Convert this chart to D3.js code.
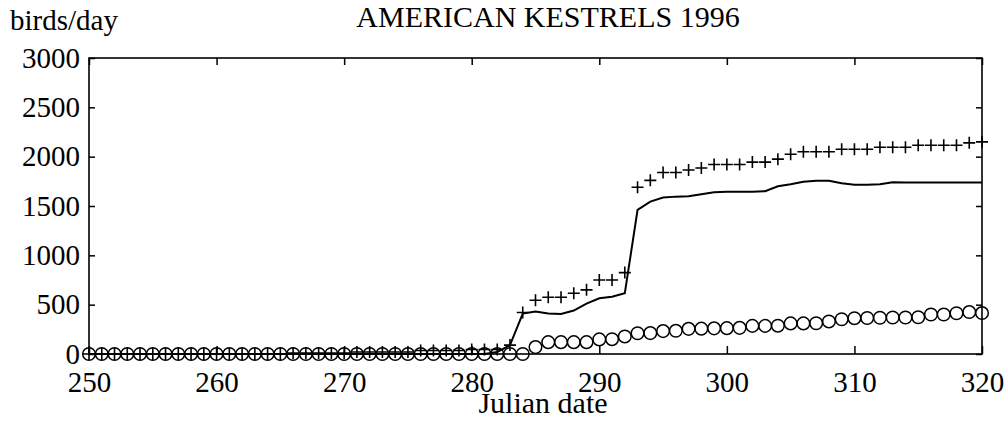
<!DOCTYPE html>
<html>
<head>
<meta charset="utf-8">
<script src="https://cdnjs.cloudflare.com/ajax/libs/d3/7.8.5/d3.min.js"></script>
<style>
body { margin: 0; background: white; }
svg text { font-family: "Liberation Serif", "Times New Roman", serif; fill: black; }
</style>
</head>
<body>
<svg></svg>
<script>
// julian days, one observation per day
var days = [250, 251, 252, 253, 254, 255, 256, 257, 258, 259,
            260, 261, 262, 263, 264, 265, 266, 267, 268, 269,
            270, 271, 272, 273, 274, 275, 276, 277, 278, 279,
            280, 281, 282, 283, 284, 285, 286, 287, 288, 289,
            290, 291, 292, 293, 294, 295, 296, 297, 298, 299,
            300, 301, 302, 303, 304, 305, 306, 307, 308, 309,
            310, 311, 312, 313, 314, 315, 316, 317, 318, 319, 320]

// "+" markers
var plusCounts = [0, 0, 0, 0, 0, 0, 0, 0, 0, 0,
                  0, 0, 0, 0, 0, 0, 10, 10, 10, 10,
                  10, 20, 20, 20, 20, 20, 35, 35, 35, 35,
                  45, 45, 45, 90, 420, 545, 575, 575, 615, 650,
                  750, 750, 825, 1690, 1760, 1840, 1840, 1865, 1885, 1920,
                  1920, 1920, 1945, 1945, 1975, 2025, 2050, 2050, 2050, 2075,
                  2075, 2075, 2095, 2095, 2095, 2115, 2115, 2115, 2115, 2140, 2150]

// solid line
var lineCounts = [0, 0, 0, 0, 0, 0, 0, 0, 0, 0,
                  0, 0, 0, 0, 0, 0, 0, 0, 0, 0,
                  0, 0, 0, 0, 0, 0, 0, 0, 0, 0,
                  0, 0, 20, 90, 410, 430, 410, 405, 440, 510,
                  565, 580, 615, 1460, 1545, 1585, 1595, 1600, 1620, 1640,
                  1645, 1645, 1645, 1650, 1700, 1720, 1745, 1755, 1755, 1730,
                  1715, 1715, 1720, 1740, 1738, 1738, 1738, 1738, 1738, 1738, 1738]

// "o" markers
var circleCounts = [0, 0, 0, 0, 0, 0, 0, 0, 0, 0,
                    0, 0, 0, 0, 0, 0, 0, 0, 0, 0,
                    0, 0, 0, 0, 0, 0, 0, 0, 0, 0,
                    0, 0, 0, 0, 0, 70, 120, 120, 120, 120,
                    148, 150, 178, 210, 212, 232, 235, 255, 257, 260,
                    262, 265, 285, 285, 287, 310, 310, 312, 330, 352,
                    363, 365, 367, 370, 370, 372, 400, 400, 413, 425, 415]

var xTicks = [250, 260, 270, 280, 290, 300, 310, 320]
var yTicks = [0, 500, 1000, 1500, 2000, 2500, 3000]

var dimensions = {
    width: 1008,
    height: 424,
    margin: {
        top: 58,
        bottom: 70,
        left: 89,
        right: 26
    }
}

var fontFamily = '"Liberation Serif", "Times New Roman", serif'

var svg = d3.select("svg")
            .attr("width", dimensions.width)
            .attr("height", dimensions.height)

var xScale = d3.scaleLinear()
               .domain([250, 320])
               .range([dimensions.margin.left, dimensions.width - dimensions.margin.right])

var yScale = d3.scaleLinear()
               .domain([0, 3000])
               .range([dimensions.height - dimensions.margin.bottom, dimensions.margin.top])

var bottomY = dimensions.height - dimensions.margin.bottom
var rightX = dimensions.width - dimensions.margin.right

// frame
svg.append("rect")
   .attr("x", dimensions.margin.left)
   .attr("y", dimensions.margin.top)
   .attr("width", rightX - dimensions.margin.left)
   .attr("height", bottomY - dimensions.margin.top)
   .attr("fill", "none")
   .attr("stroke", "black")
   .attr("stroke-width", 1.6)

// axes, ticks pointing inward
var leftAxis = svg.append("g")
                  .attr("transform", "translate(" + dimensions.margin.left + ",0)")
                  .call(d3.axisLeft(yScale).tickValues(yTicks).tickSize(-6).tickPadding(9).tickFormat(d3.format("d")))
var rightAxis = svg.append("g")
                   .attr("transform", "translate(" + rightX + ",0)")
                   .call(d3.axisRight(yScale).tickValues(yTicks).tickSize(-6).tickFormat(""))
var topAxis = svg.append("g")
                 .attr("transform", "translate(0," + dimensions.margin.top + ")")
                 .call(d3.axisTop(xScale).tickValues(xTicks).tickSize(-7).tickFormat(""))
var bottomAxis = svg.append("g")
                    .attr("transform", "translate(0," + bottomY + ")")
                    .call(d3.axisBottom(xScale).tickValues(xTicks).tickSize(-8).tickPadding(17).tickFormat(d3.format("d")))

svg.selectAll(".domain").remove()
svg.selectAll(".tick line").attr("stroke", "black").attr("stroke-width", 1.5)
svg.selectAll("g").attr("font-family", null).attr("font-size", null)
svg.selectAll(".tick text")
   .style("font-family", fontFamily)
   .style("font-size", "29px")
   .attr("fill", "black")

// solid line
var lineData = days.map((d, i) => [d, lineCounts[i]])
svg.append("path")
   .datum(lineData)
   .attr("d", d3.line().x(d => xScale(d[0])).y(d => yScale(d[1])))
   .attr("fill", "none")
   .attr("stroke", "black")
   .attr("stroke-width", 2)

// plus markers
svg.append("g")
   .selectAll(".plus")
   .data(days.map((d, i) => [d, plusCounts[i]]))
   .enter()
   .append("path")
   .attr("class", "plus")
   .attr("transform", d => "translate(" + xScale(d[0]) + "," + yScale(d[1]) + ")")
   .attr("d", "M-6,0H6M0,-6V6")
   .attr("stroke", "black")
   .attr("stroke-width", 1.6)

// circle markers
svg.append("g")
   .selectAll(".ring")
   .data(days.map((d, i) => [d, circleCounts[i]]))
   .enter()
   .append("circle")
   .attr("class", "ring")
   .attr("cx", d => xScale(d[0]))
   .attr("cy", d => yScale(d[1]))
   .attr("r", 6.3)
   .attr("fill", "none")
   .attr("stroke", "black")
   .attr("stroke-width", 1.5)

// titles
svg.append("text")
   .attr("x", 548)
   .attr("y", 27)
   .attr("text-anchor", "middle")
   .style("font-size", "30px")
   .text("AMERICAN KESTRELS 1996")

svg.append("text")
   .attr("x", 10)
   .attr("y", 30)
   .style("font-size", "29px")
   .text("birds/day")

svg.append("text")
   .attr("x", 543)
   .attr("y", 413)
   .attr("text-anchor", "middle")
   .style("font-size", "30px")
   .text("Julian date")
</script>
</body>
</html>
